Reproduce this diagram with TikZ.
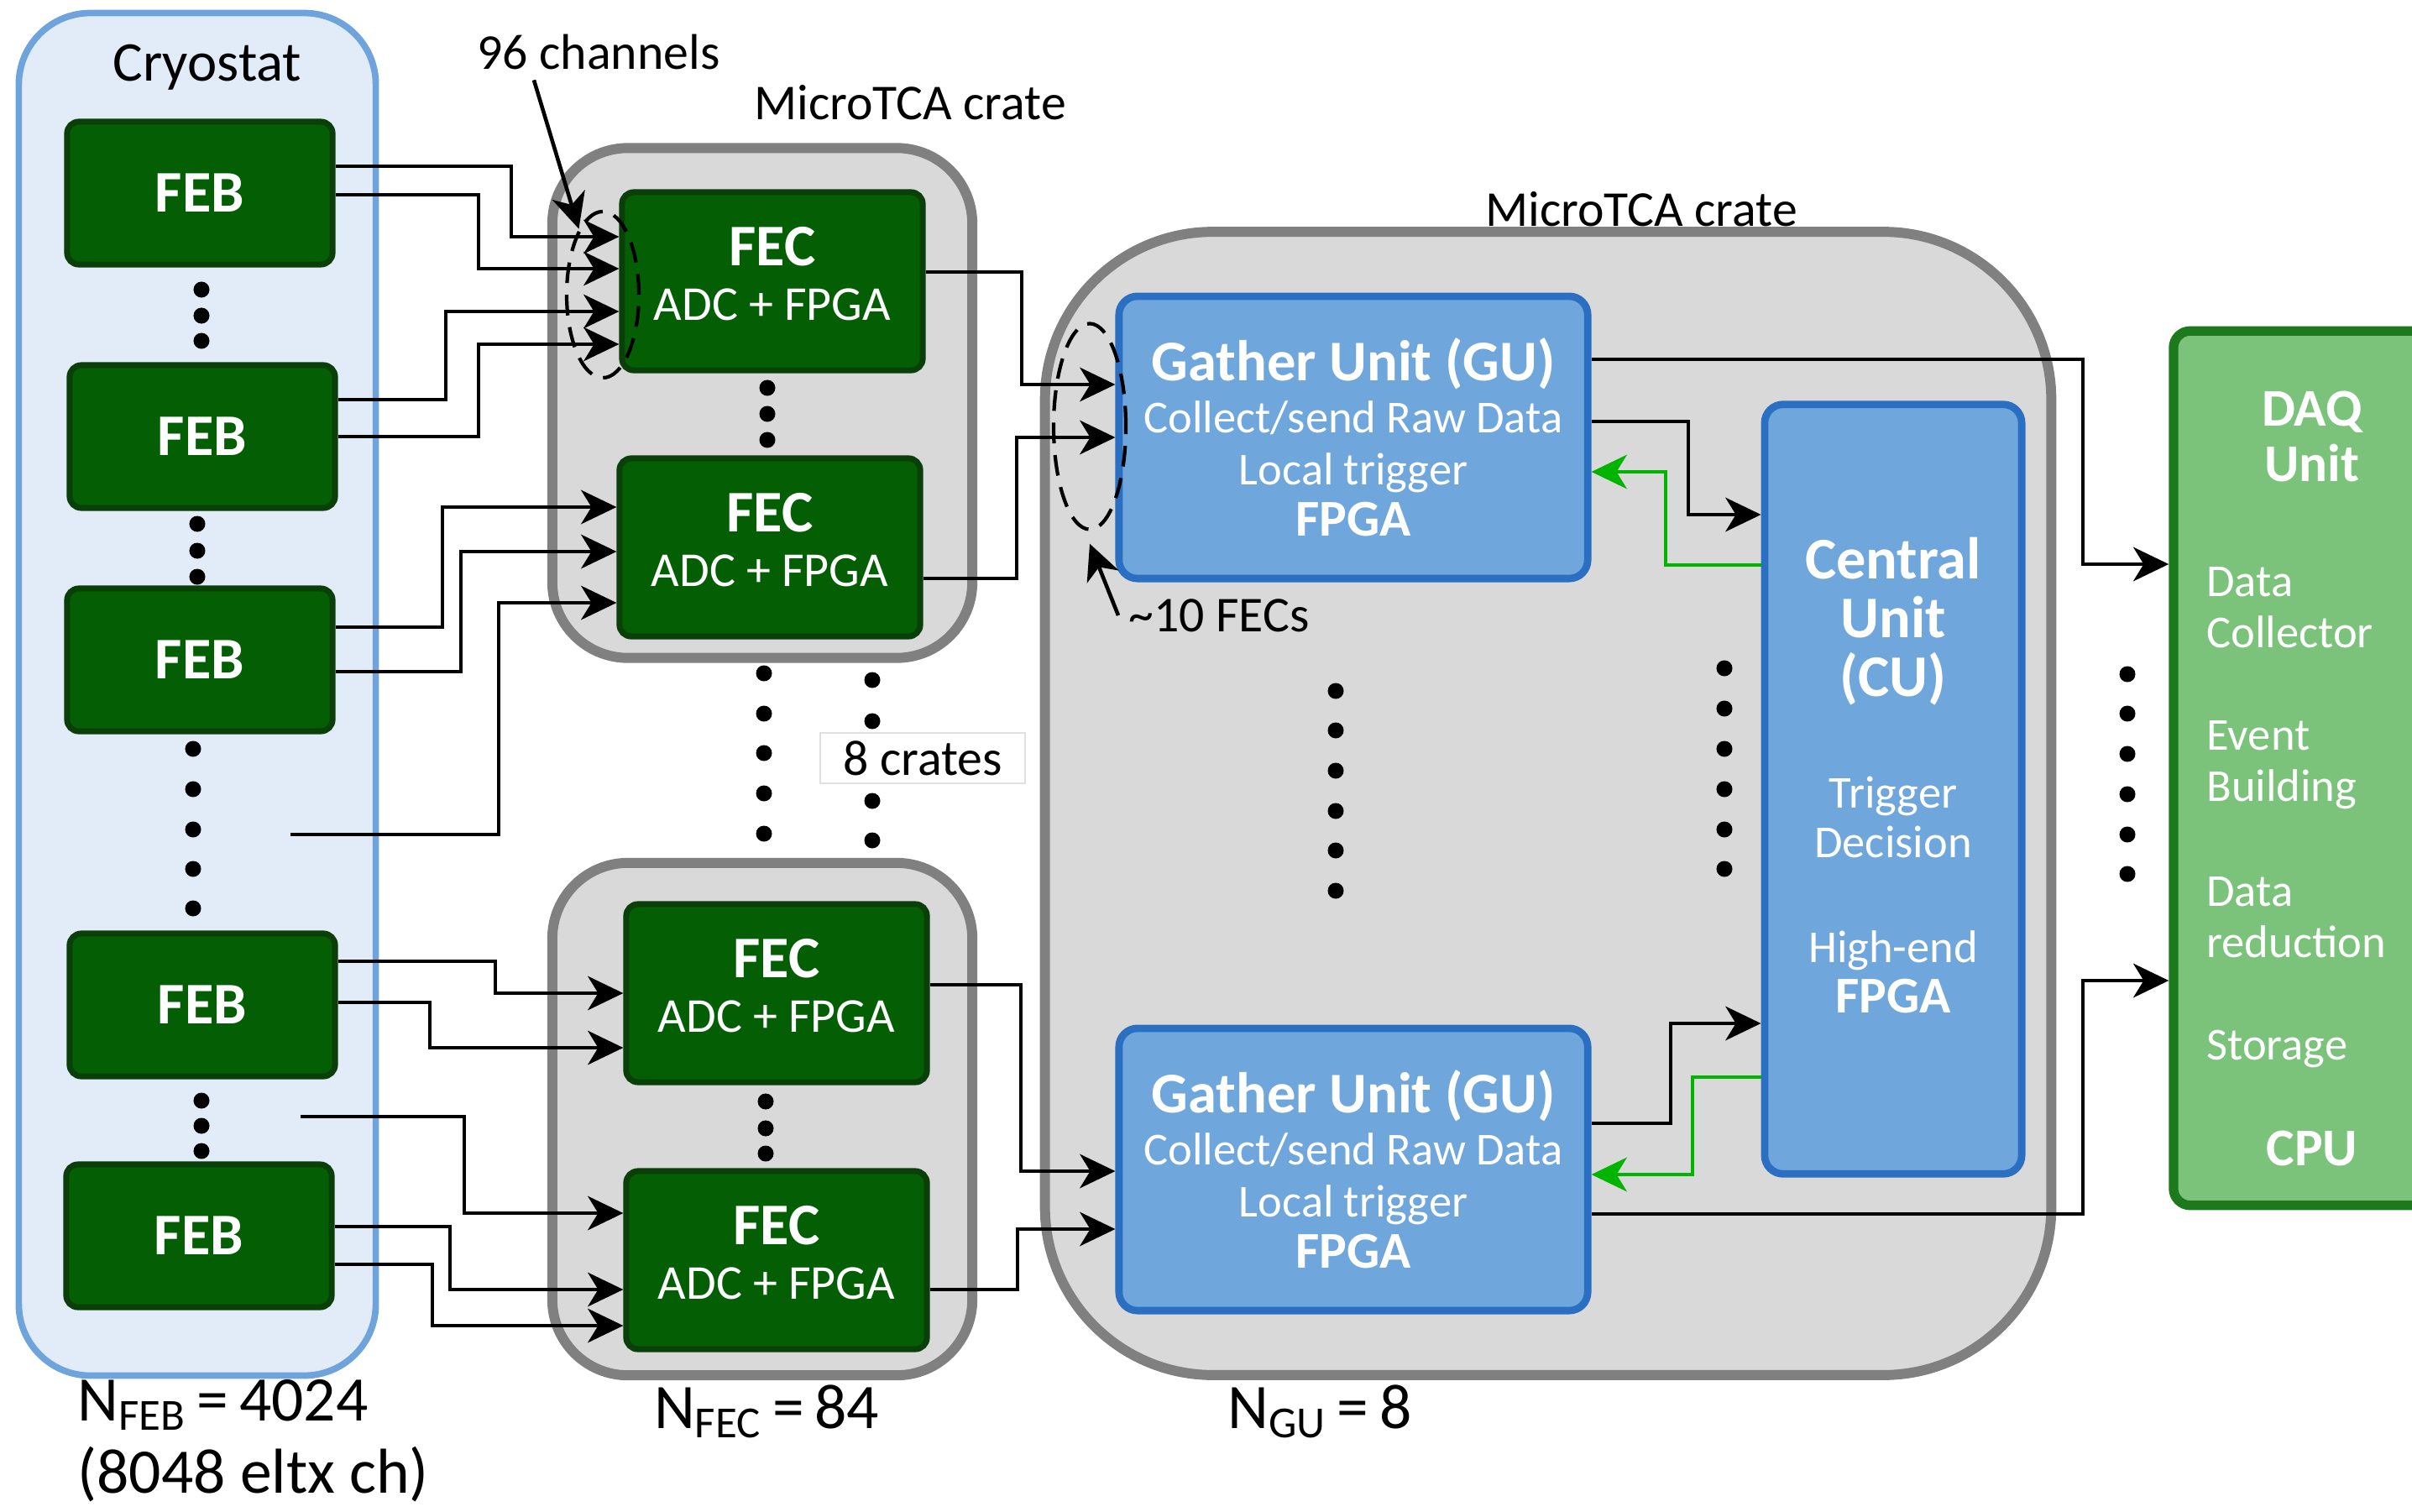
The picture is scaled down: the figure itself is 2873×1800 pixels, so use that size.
\documentclass[tikz,border=0pt]{standalone}
\usepackage{fontspec}
\setmainfont{Carlito}
\usetikzlibrary{shapes.geometric,arrows.meta}
\definecolor{cryofill}{HTML}{E2ECF8}
\definecolor{cryoline}{HTML}{6FA3DC}
\definecolor{febfill}{HTML}{045E04}
\definecolor{febline}{HTML}{0A3F0A}
\definecolor{cratefill}{HTML}{D9D9D9}
\definecolor{crateline}{HTML}{808080}
\definecolor{unitfill}{HTML}{6FA6DC}
\definecolor{unitline}{HTML}{2A6FC2}
\definecolor{daqfill}{HTML}{7BC27B}
\definecolor{daqline}{HTML}{1C7A1C}
\definecolor{trggreen}{HTML}{00B400}
\begin{document}
\begin{tikzpicture}[
x=0.01cm,y=-0.01cm,
sig/.style={line width=1.3pt,-{Stealth[length=12pt,width=11.5pt,inset=3.5pt]}},
trg/.style={sig,trggreen},
feb/.style={draw=febline,fill=febfill,line width=2pt,rounded corners=0.14cm,minimum width=3.16cm,minimum height=1.70cm,text=white,font=\fontsize{20}{22}\selectfont\bfseries},
fec/.style={feb,minimum width=3.58cm,minimum height=2.12cm,align=center,text depth=5pt,font=\fontsize{16.5}{18.5}\selectfont},
unit/.style={draw=unitline,fill=unitfill,line width=2.5pt,rounded corners=0.22cm,text=white,align=center,font=\fontsize{15.5}{17.5}\selectfont},
utext/.style={text=white,align=center},
dtext/.style={text=white,anchor=west,align=left,font=\fontsize{15.5}{17.4}\selectfont},
crate/.style={draw=crateline,fill=cratefill,line width=3.4pt},
lbl/.style={font=\fontsize{17}{20}\selectfont},
nlbl/.style={font=\fontsize{21.5}{24.5}\selectfont,align=left},
chgroup/.style={draw,ellipse,inner sep=0pt,line width=1.2pt,dash pattern=on 7pt off 4pt}
]
\path[use as bounding box] (0,0) rectangle (2873,1800);
\clip (0,0) rectangle (2873,1800);

\node[draw=cryoline,fill=cryofill,line width=2.2pt,rounded corners=0.85cm,minimum width=4.25cm,minimum height=16.22cm] (cryo) at (235,827) {};
\node[crate,rounded corners=0.9cm,minimum width=5cm,minimum height=6.07cm] (crateA) at (908,480) {};
\node[crate,rounded corners=0.9cm,minimum width=5cm,minimum height=6.1cm] (crateB) at (908,1333) {};
\node[crate,rounded corners=2cm,minimum width=11.98cm,minimum height=13.61cm] (crateC) at (1844,957) {};
\node[draw=daqline,fill=daqfill,line width=3.2pt,rounded corners=0.2cm,minimum width=3.8cm,minimum height=10.41cm] (daq) at (2779,915) {};

\node[font=\fontsize{19}{21}\selectfont] (cryolab) at (247,80) {Cryostat};
\node[lbl] (lab96) at (713,62) {96 channels};
\node[lbl] (labA) at (1084,122) {MicroTCA crate};
\node[lbl] (labC) at (1955,249) {MicroTCA crate};
\node[lbl,draw=black!12,fill=white,inner sep=0pt,minimum width=2.44cm,minimum height=0.6cm] (lab8) at (1099,903) {8 crates};
\node[lbl,anchor=west] (lab10) at (1332,733) {\textasciitilde10 FECs};

\node[feb] (feb1) at (238,230) {FEB};
\node[feb] (feb2) at (241,520) {FEB};
\node[feb] (feb3) at (238,786) {FEB};
\node[feb] (feb4) at (241,1197) {FEB};
\node[feb] (feb5) at (237,1472) {FEB};

\node[fec] (fec1) at (920,335) {{\fontsize{20}{18.5}\selectfont\bfseries FEC}\\ADC + FPGA};
\node[fec] (fec2) at (917,652) {{\fontsize{20}{18.5}\selectfont\bfseries FEC}\\ADC + FPGA};
\node[fec] (fec3) at (925,1183) {{\fontsize{20}{18.5}\selectfont\bfseries FEC}\\ADC + FPGA};
\node[fec] (fec4) at (925,1501) {{\fontsize{20}{18.5}\selectfont\bfseries FEC}\\ADC + FPGA};

\node[unit,minimum width=5.58cm,minimum height=3.36cm] (gu1) at (1612,521) {{\fontsize{19.5}{17.5}\selectfont\bfseries Gather Unit (GU)}\\Collect/send Raw Data\\Local trigger\\{\fontsize{17.5}{17.5}\selectfont\bfseries FPGA}};
\node[unit,minimum width=5.58cm,minimum height=3.36cm] (gu2) at (1612,1393) {{\fontsize{19.5}{17.5}\selectfont\bfseries Gather Unit (GU)}\\Collect/send Raw Data\\Local trigger\\{\fontsize{17.5}{17.5}\selectfont\bfseries FPGA}};
\node[unit,minimum width=3.06cm,minimum height=9.16cm] (cu) at (2255,940) {};
\node[utext,font=\fontsize{20}{19.9}\selectfont\bfseries] (cutitle) at (2255,740) {Central\\Unit\\(CU)};
\node[utext,font=\fontsize{15.5}{16.8}\selectfont] (cutrig) at (2255,973) {Trigger\\Decision};
\node[utext,font=\fontsize{15.5}{17}\selectfont] (cufpga) at (2255,1158) {High-end\\{\fontsize{17.5}{17}\selectfont\bfseries FPGA}};

\node[utext,font=\fontsize{18}{19}\selectfont\bfseries] (daqt) at (2754,520) {DAQ\\Unit};
\node[dtext] (dcol) at (2616,724) {Data\\Collector};
\node[dtext] (devt) at (2616,911) {Event\\Building};
\node[dtext] (dred) at (2616,1093) {Data\\reduction};
\node[dtext] (dsto) at (2616,1249) {Storage};
\node[utext,font=\fontsize{18}{19}\selectfont\bfseries] (dcpu) at (2754,1368) {CPU};

\node[chgroup,minimum width=0.86cm,minimum height=1.98cm] (ell1) at (718,351) {};
\node[chgroup,minimum width=0.86cm,minimum height=2.45cm] (ell2) at (1298,508) {};

\node[nlbl,anchor=north west,inner sep=0pt] (nfeb) at (92,1643) {N\textsubscript{FEB}\,=\,4024\\(8048 eltx ch)};
\node[nlbl] (nfec) at (913,1681) {N\textsubscript{FEC}\,=\,84};
\node[nlbl] (ngu) at (1572,1681) {N\textsubscript{GU}\,=\,8};

\foreach \y in {345,376,406} \fill (240,\y) circle[radius=0.095cm];
\foreach \y in {624,656,687} \fill (235,\y) circle[radius=0.095cm];
\foreach \y in {892,940,988,1035,1082} \fill (230,\y) circle[radius=0.095cm];
\foreach \y in {1311,1341,1371} \fill (240,\y) circle[radius=0.095cm];
\foreach \y in {462,493,524} \fill (914,\y) circle[radius=0.095cm];
\foreach \y in {1312,1344,1374} \fill (912,\y) circle[radius=0.095cm];
\foreach \y in {802,850,897,945,993} \fill (910,\y) circle[radius=0.095cm];
\foreach \y in {810,859,954,1001} \fill (1039,\y) circle[radius=0.095cm];
\foreach \y in {823,870,918,966,1013,1061} \fill (1591,\y) circle[radius=0.095cm];
\foreach \y in {796,844,892,940,988,1035} \fill (2054,\y) circle[radius=0.095cm];
\foreach \y in {803,850,898,946,994,1041} \fill (2534,\y) circle[radius=0.095cm];

\coordinate (in1) at (346,994);
\coordinate (in2) at (358,1330);
\draw[sig] (feb1.east |- 0,198) -| (609,282) -- (fec1.west |- 0,282);
\draw[sig] (feb1.east |- 0,232) -| (570,320) -- (fec1.west |- 0,320);
\draw[sig] (feb2.east |- 0,476) -| (531,371) -- (fec1.west |- 0,371);
\draw[sig] (feb2.east |- 0,520) -| (570,410) -- (fec1.west |- 0,410);
\draw[sig] (feb3.east |- 0,747) -| (527,604) -- (fec2.west |- 0,604);
\draw[sig] (feb3.east |- 0,800) -| (549,657) -- (fec2.west |- 0,657);
\draw[sig] (in1) -| (594,718) -- (fec2.west |- 0,718);
\draw[sig] (feb4.east |- 0,1145) -| (590,1183) -- (fec3.west |- 0,1183);
\draw[sig] (feb4.east |- 0,1194) -| (512,1248) -- (fec3.west |- 0,1248);
\draw[sig] (in2) -| (553,1445) -- (fec4.west |- 0,1445);
\draw[sig] (feb5.east |- 0,1461) -| (536,1536) -- (fec4.west |- 0,1536);
\draw[sig] (feb5.east |- 0,1506) -| (515,1579) -- (fec4.west |- 0,1579);

\draw[sig] (fec1.east |- 0,324) -| (1217,458) -- (gu1.west |- 0,458);
\draw[sig] (fec2.east |- 0,689) -| (1211,521) -- (gu1.west |- 0,521);
\draw[sig] (fec3.east |- 0,1173) -| (1216,1395) -- (gu2.west |- 0,1395);
\draw[sig] (fec4.east |- 0,1536) -| (1212,1464) -- (gu2.west |- 0,1464);

\draw[sig] (gu1.east |- 0,428) -| (2481,672) -- (daq.west |- 0,672);
\draw[sig] (gu1.east |- 0,502) -| (2011,613) -- (cu.west |- 0,613);
\draw[trg] (cu.west |- 0,673) -| (1984,562) -- (gu1.east |- 0,562);
\draw[sig] (gu2.east |- 0,1338) -| (1990,1219) -- (cu.west |- 0,1219);
\draw[trg] (cu.west |- 0,1283) -| (2016,1399) -- (gu2.east |- 0,1399);
\draw[sig] (gu2.east |- 0,1446) -| (2481,1168) -- (daq.west |- 0,1168);

\draw[sig] ([xshift=-0.77cm]lab96.south) -- (ell1.110);
\draw[sig] (lab10.west) -- ([yshift=-0.15cm]ell2.south);
\end{tikzpicture}
\end{document}
